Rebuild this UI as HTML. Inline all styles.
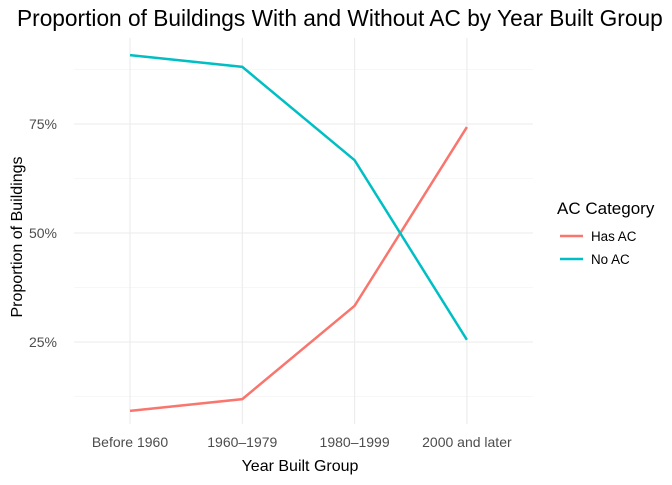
<!DOCTYPE html>
<html><head><meta charset="utf-8"><style>
body{margin:0;background:#fff;font-family:"Liberation Sans",sans-serif}
</style></head><body>
<svg id="chart" width="672" height="480" xmlns="http://www.w3.org/2000/svg">
<text x="17" y="26" font-size="22.7" fill="#000">Proportion of Buildings With and Without AC by Year Built Group</text>
<g id="grid"></g>
<g id="ticks"></g>
<g id="lines"></g>
<text x="300" y="471" font-size="16" text-anchor="middle" fill="#000">Year Built Group</text>
<text transform="translate(22,237) rotate(-90)" font-size="16" text-anchor="middle" fill="#000">Proportion of Buildings</text>
<g>
<text x="557" y="214" font-size="17" fill="#000">AC Category</text>
<g><line x1="560" x2="583" y1="236" y2="236" stroke="#F8766D" stroke-width="2.5"/><text x="591" y="241" font-size="13.4" fill="#000">Has AC</text></g>
<g><line x1="560" x2="583" y1="259" y2="259" stroke="#00BFC4" stroke-width="2.5"/><text x="591" y="264" font-size="13.4" fill="#000">No AC</text></g>
</g>
</svg>
<script>
const categories=["Before 1960","1960–1979","1980–1999","2000 and later"];
const hasAC=[0.092,0.119,0.333,0.743];
const noAC=[0.908,0.881,0.667,0.255];
const yTicks=[0.25,0.5,0.75];
const yTickLabels=["25%","50%","75%"];
const NS="http://www.w3.org/2000/svg";
const L=74,R=533,T=38,B=424;
const x=i=>130+i*112.3;
const y=v=>451-v*436;
function mk(tag,attrs,parent){const e=document.createElementNS(NS,tag);for(const k in attrs)e.setAttribute(k,attrs[k]);parent.appendChild(e);return e;}
const grid=document.getElementById('grid'),ticks=document.getElementById('ticks'),lines=document.getElementById('lines');
[0.125,0.375,0.625,0.875].forEach(v=>{const g=mk('line',{x1:L,x2:R,y1:y(v),y2:y(v),stroke:'#f0f0f0','stroke-width':0.6},grid);

});
yTicks.forEach((v,i)=>{const g=mk('line',{x1:L,x2:R,y1:y(v),y2:y(v),stroke:'#ebebeb','stroke-width':1.1},grid);


const t=mk('text',{x:57,y:y(v)+5,'font-size':14,'text-anchor':'end',fill:'#4d4d4d'},ticks);t.textContent=yTickLabels[i];

});
categories.forEach((c,i)=>{const g=mk('line',{x1:x(i),x2:x(i),y1:T,y2:B,stroke:'#ebebeb','stroke-width':1.1},grid);


const t=mk('text',{x:x(i),y:447,'font-size':14,'text-anchor':'middle',fill:'#4d4d4d'},ticks);t.textContent=c;

});
function series(vals,color,name){const p=mk('polyline',{points:vals.map((v,i)=>x(i)+','+y(v)).join(' '),fill:'none',stroke:color,'stroke-width':2.5},lines);

}
series(hasAC,'#F8766D','has-ac-line');
series(noAC,'#00BFC4','no-ac-line');
</script>
</body></html>
